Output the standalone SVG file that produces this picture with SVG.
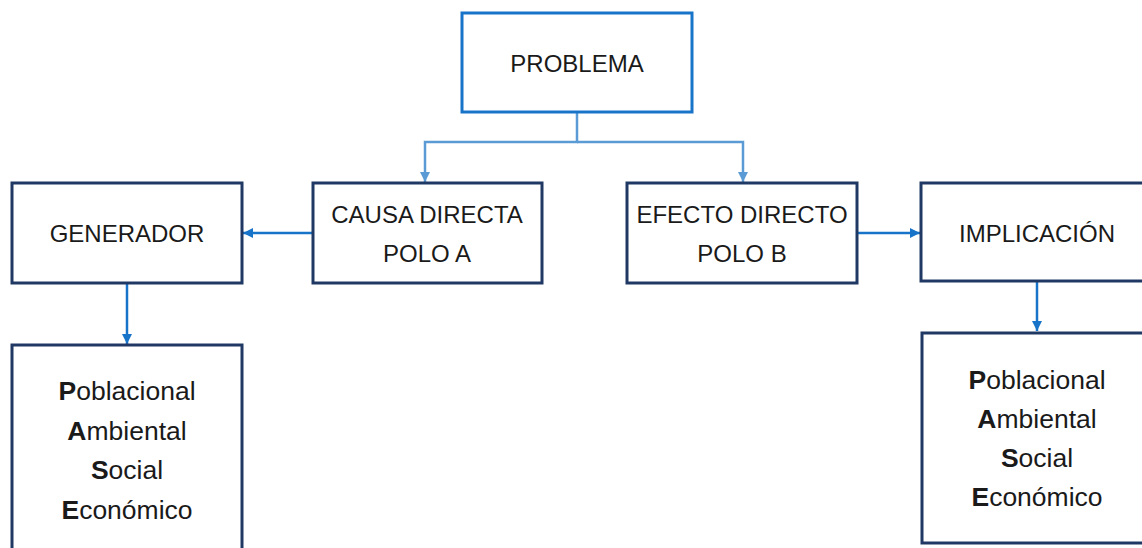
<svg xmlns="http://www.w3.org/2000/svg" width="1142" height="548" viewBox="0 0 1142 548">
<style>
.box{fill:#fff;stroke:#1F3864;stroke-width:3}
.top{fill:#fff;stroke:#1874C8;stroke-width:3}
.t{font-family:"Liberation Sans",Arial,sans-serif;font-size:24px;fill:#1a1a1a;text-anchor:middle}
.s{font-family:"Liberation Sans",Arial,sans-serif;font-size:26.5px;fill:#1a1a1a;text-anchor:middle}
.c1{fill:none;stroke:#5B9BD5;stroke-width:2.5}
.c2{fill:none;stroke:#1874C8;stroke-width:2.5}
</style>
<defs>
<marker id="a1" viewBox="0 0 10 10" refX="10" refY="5" markerWidth="4" markerHeight="4" orient="auto" markerUnits="strokeWidth"><path d="M0,0L10,5L0,10z" fill="#5B9BD5"/></marker>
<marker id="a2" viewBox="0 0 10 10" refX="10" refY="5" markerWidth="4" markerHeight="4" orient="auto" markerUnits="strokeWidth"><path d="M0,0L10,5L0,10z" fill="#1874C8"/></marker>
</defs>
<g id="connectors">
<path class="c1" d="M577,112V142H425V182" marker-end="url(#a1)"/>
<path class="c1" d="M577,142H743V182" marker-end="url(#a1)"/>
<path class="c2" d="M313,233H243" marker-end="url(#a2)"/>
<path class="c2" d="M857,233H920" marker-end="url(#a2)"/>
<path class="c2" d="M127,283V344" marker-end="url(#a2)"/>
<path class="c2" d="M1037,281V331" marker-end="url(#a2)"/>
</g>
<g id="problema"><rect class="top" x="462" y="13" width="230" height="99"/><text class="t" x="577" y="72">PROBLEMA</text></g>
<g id="generador"><rect class="box" x="12" y="183" width="230" height="100"/><text class="t" x="127" y="242">GENERADOR</text></g>
<g id="causa"><rect class="box" x="313" y="183" width="229" height="100"/><text class="t" x="427" y="223">CAUSA DIRECTA</text><text class="t" x="427" y="262">POLO A</text></g>
<g id="efecto"><rect class="box" x="627" y="183" width="230" height="100"/><text class="t" x="742" y="223">EFECTO DIRECTO</text><text class="t" x="742" y="262">POLO B</text></g>
<g id="implicacion"><rect class="box" x="921" y="183" width="232" height="98"/><text class="t" x="1037" y="242">IMPLICACIÓN</text></g>
<g id="pase-left"><rect class="box" x="12" y="345" width="230" height="215"/>
<text class="s" x="127" y="400"><tspan font-weight="bold">P</tspan>oblacional</text>
<text class="s" x="127" y="440"><tspan font-weight="bold">A</tspan>mbiental</text>
<text class="s" x="127" y="479"><tspan font-weight="bold">S</tspan>ocial</text>
<text class="s" x="127" y="519"><tspan font-weight="bold">E</tspan>conómico</text></g>
<g id="pase-right"><rect class="box" x="922" y="333" width="232" height="210"/>
<text class="s" x="1037" y="389"><tspan font-weight="bold">P</tspan>oblacional</text>
<text class="s" x="1037" y="428"><tspan font-weight="bold">A</tspan>mbiental</text>
<text class="s" x="1037" y="467"><tspan font-weight="bold">S</tspan>ocial</text>
<text class="s" x="1037" y="506"><tspan font-weight="bold">E</tspan>conómico</text></g>
</svg>
